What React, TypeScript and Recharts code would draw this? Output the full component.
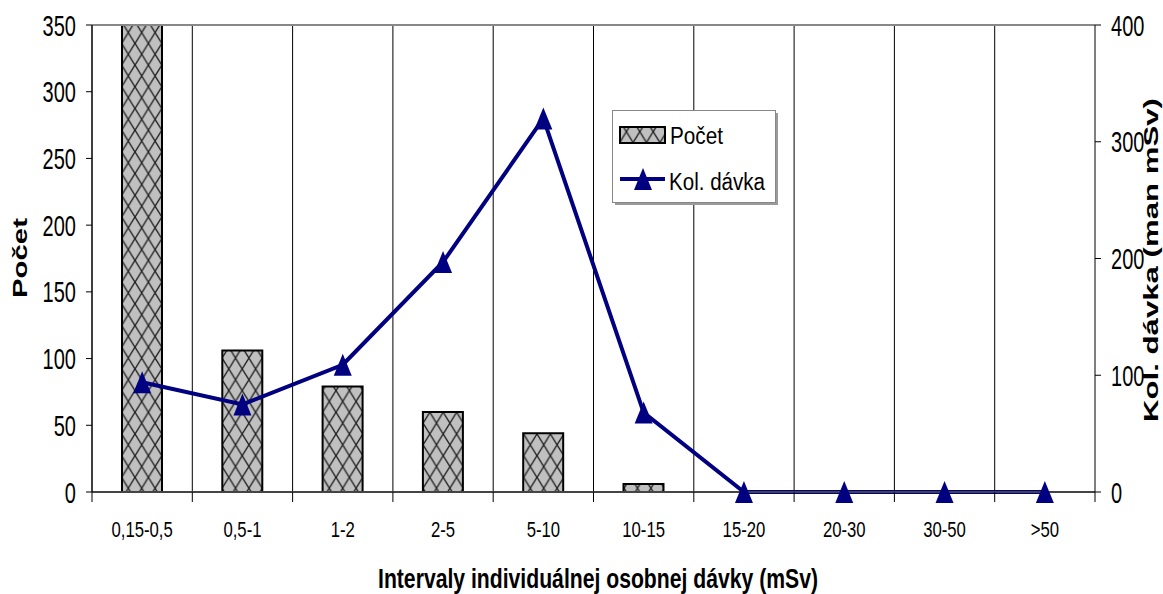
import { ComposedChart, Bar, Line, XAxis, YAxis, CartesianGrid, Legend, ReferenceLine } from 'recharts'

const FONT = "'Liberation Sans', Arial, sans-serif"
const NAVY = '#000080'

const categories = ['0,15-0,5', '0,5-1', '1-2', '2-5', '5-10', '10-15', '15-20', '20-30', '30-50', '>50']
const pocet = [420, 106, 79, 60, 44, 6, 0, 0, 0, 0]
const kolDavka = [94, 75, 109, 197, 320, 68, 0, 0, 0, 0]
const pocetTicks = [0, 50, 100, 150, 200, 250, 300, 350]
const davkaTicks = [0, 100, 200, 300, 400]

const data = categories.map((name, i) => ({ name, pocet: pocet[i], davka: kolDavka[i] }))

const W = 1163
const H = 594
const PLOT_L = 92
const PLOT_R = 1095
const PLOT_B = 492
const BAND = (PLOT_R - PLOT_L) / categories.length

function XTick({ x, payload, index }: any) {
  const last = index === categories.length - 1
  return (
    <g>
      <line x1={x - BAND / 2} x2={x - BAND / 2} y1={PLOT_B} y2={PLOT_B + 10} stroke="#000" />
      {last && <line x1={x + BAND / 2} x2={x + BAND / 2} y1={PLOT_B} y2={PLOT_B + 10} stroke="#000" />}
      <text
        transform={`translate(${x},537) scale(0.76,1)`}
        textAnchor="middle"
        fontSize={22}
        fontFamily={FONT}
        fill="#000"
      >
        {payload.value}
      </text>
    </g>
  )
}

function LeftTick({ y, payload }: any) {
  return (
    <text transform={`translate(76,${y + 10.5}) scale(0.69,1)`} textAnchor="end" fontSize={29} fontFamily={FONT} fill="#000">
      {payload.value}
    </text>
  )
}

function RightTick({ y, payload }: any) {
  return (
    <text transform={`translate(1111,${y + 10.5}) scale(0.69,1)`} textAnchor="start" fontSize={29} fontFamily={FONT} fill="#000">
      {payload.value}
    </text>
  )
}

function Triangle({ cx, cy }: any) {
  if (cx == null || cy == null) return null
  return <polygon points={`${cx},${cy - 11} ${cx + 9},${cy + 11} ${cx - 9},${cy + 11}`} fill={NAVY} />
}

function LegendBox() {
  return (
    <svg width={168} height={97} style={{ display: 'block' }}>
      <rect x={3} y={3} width={163} height={92} fill="#9a9a9a" />
      <rect x={0.5} y={0.5} width={163} height={92} fill="#fff" stroke="#888" />
      <rect x={8} y={17} width={45} height={16} fill="url(#xhatch)" stroke="#000" strokeWidth={2} />
      <text x={58} y={34} fontSize={23} fontFamily={FONT} textLength={53} lengthAdjust="spacingAndGlyphs">
        Počet
      </text>
      <line x1={8} x2={53} y1={69} y2={69} stroke={NAVY} strokeWidth={4} />
      <polygon points="31,58 40,80 22,80" fill={NAVY} />
      <text x={57} y={80} fontSize={23} fontFamily={FONT} textLength={96} lengthAdjust="spacingAndGlyphs">
        Kol. dávka
      </text>
    </svg>
  )
}

export default function App() {
  return (
    <div style={{ position: 'absolute', left: 0, top: 0, width: W, height: H, background: '#fff' }}>
      <svg width={0} height={0} style={{ position: 'absolute' }}>
        <defs>
          <pattern id="xhatch" patternUnits="userSpaceOnUse" x={1} width={13.4} height={21.7}>
            <rect width={13.4} height={21.7} fill="#c0c0c0" />
            <path d="M0,0 L13.4,21.7 M13.4,0 L0,21.7" stroke="#222" strokeWidth={1.4} />
          </pattern>
        </defs>
      </svg>

      <ComposedChart width={W} height={H} data={data} margin={{ top: 25, right: 8, bottom: 62, left: 12 }}>
        <CartesianGrid
          stroke="#000"
          verticalCoordinatesGenerator={({ offset }: any) =>
            categories.map((_, i) => offset.left + (i * offset.width) / categories.length)
          }
        />
        <XAxis dataKey="name" interval={0} tickLine={false} height={40} axisLine={{ stroke: '#444', strokeWidth: 2 }} tick={<XTick />} />
        <YAxis
          yAxisId="left"
          domain={[0, 350]}
          ticks={pocetTicks}
          allowDataOverflow
          width={80}
          tickSize={6}
          axisLine={{ stroke: '#000' }}
          tickLine={{ stroke: '#000' }}
          tick={<LeftTick />}
        />
        <YAxis
          yAxisId="right"
          orientation="right"
          domain={[0, 400]}
          ticks={davkaTicks}
          width={60}
          tickSize={6}
          axisLine={{ stroke: '#000' }}
          tickLine={{ stroke: '#000' }}
          tick={<RightTick />}
        />
        <ReferenceLine yAxisId="left" y={350} stroke="#888" strokeWidth={2} />
        <Legend verticalAlign="middle" align="center" wrapperStyle={{ left: 612, top: 110, width: 168 }} content={<LegendBox />} />
        <Bar yAxisId="left" dataKey="pocet" name="Počet" barSize={40} fill="url(#xhatch)" stroke="#000" strokeWidth={2} isAnimationActive={false} />
        <Line
          yAxisId="right"
          dataKey="davka"
          name="Kol. dávka"
          type="linear"
          stroke={NAVY}
          strokeWidth={4}
          dot={<Triangle />}
          activeDot={false}
          isAnimationActive={false}
        />
      </ComposedChart>

      <svg width={W} height={H} style={{ position: 'absolute', left: 0, top: 0, pointerEvents: 'none' }}>
        <text
          transform="translate(27,258) rotate(-90)"
          textAnchor="middle"
          fontSize={20}
          fontWeight="bold"
          fontFamily={FONT}
          textLength={80}
          lengthAdjust="spacingAndGlyphs"
        >
          Počet
        </text>
        <text
          transform="translate(1158,260) rotate(-90)"
          textAnchor="middle"
          fontSize={20}
          fontWeight="bold"
          fontFamily={FONT}
          textLength={324}
          lengthAdjust="spacingAndGlyphs"
        >
          Kol. dávka (man mSv)
        </text>
        <text
          x={598}
          y={588}
          textAnchor="middle"
          fontSize={28}
          fontWeight="bold"
          fontFamily={FONT}
          textLength={440}
          lengthAdjust="spacingAndGlyphs"
        >
          Intervaly individuálnej osobnej dávky (mSv)
        </text>
      </svg>
    </div>
  )
}
